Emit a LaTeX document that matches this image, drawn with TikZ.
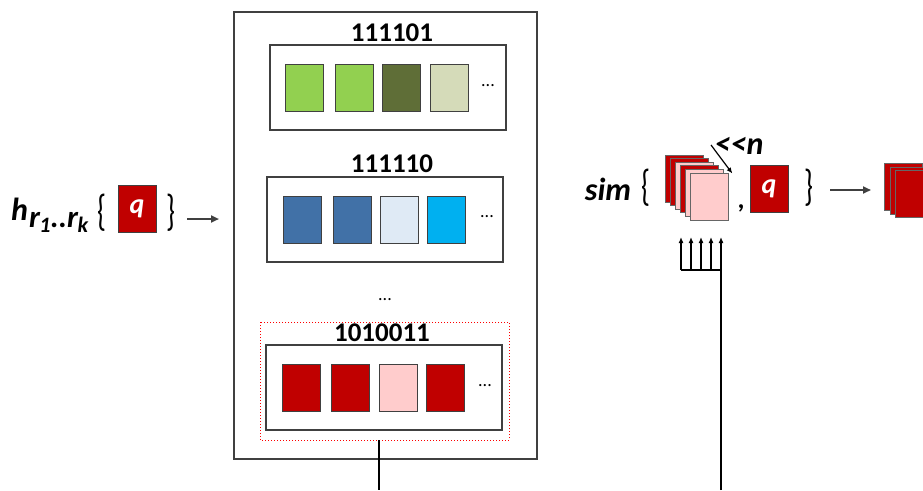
\documentclass[tikz,border=0pt]{standalone}
\usepackage{fontspec}
\setmainfont{Carlito}
\usetikzlibrary{arrows.meta}
\definecolor{dred}{HTML}{C00000}
\definecolor{pinkc}{HTML}{FFCCCC}
\definecolor{lgreen}{HTML}{92D050}
\definecolor{olive}{HTML}{5F6E37}
\definecolor{sage}{HTML}{D5DBB9}
\definecolor{steel}{HTML}{4171A7}
\definecolor{pale}{HTML}{DFEAF5}
\definecolor{cyanc}{HTML}{00B0F0}
\definecolor{edge}{HTML}{404040}
\tikzset{
  cell/.style={draw=edge, line width=0.8pt, minimum width=38pt, minimum height=47pt, inner sep=0pt},
  card/.style={draw=edge!80, line width=0.8pt, minimum width=38pt, minimum height=47pt, inner sep=0pt},
  frame/.style={draw=edge, line width=1.4pt},
  binlabel/.style={font=\fontsize{27}{30}\selectfont\bfseries, inner sep=0pt},
  dots/.style={font=\fontsize{18}{20}\selectfont, inner sep=0pt},
  brace/.style={font=\fontsize{30}{32}\selectfont, inner sep=0pt},
  qbox/.style={cell, fill=dred, font=\fontsize{28}{30}\selectfont\bfseries\itshape, text=white},
  grayarrow/.style={draw=edge, line width=2.2pt, -{Triangle[length=8pt,width=7pt]}},
  feed/.style={line width=1.8pt, -{Latex[length=6pt,width=5pt]}},
  wire/.style={line width=2pt}
}
\newcommand{\subbig}{\fontsize{31}{33}\selectfont\bfseries\itshape}
\newcommand{\subsmall}{\fontsize{22}{24}\selectfont\bfseries\itshape}
\newcommand{\tallbrace}[1]{\scalebox{0.95}[1.45]{#1}}
\begin{document}
\begin{tikzpicture}[x=1pt, y=-1pt]
\useasboundingbox (0,0) rectangle (923,490);
\clip (0,0) rectangle (923,490);

% outer container
\draw[frame, line width=2pt] (234,12) rectangle (537,459);

% bucket 111101
\node[binlabel] (l1) at (392,33) {111101};
\draw[frame] (270,45) rectangle (506,130);
\node[cell, fill=lgreen] (a1) at (304,87.5) {};
\node[cell, fill=lgreen] (a2) at (354,87.5) {};
\node[cell, fill=olive]  (a3) at (401.5,87.5) {};
\node[cell, fill=sage]   (a4) at (449,87.5) {};
\node[dots] (ad) at (488,86) {...};

% bucket 111110
\node[binlabel] (l2) at (392,164) {111110};
\draw[frame] (267,177) rectangle (503,262);
\node[cell, fill=steel] (b1) at (302.5,219.5) {};
\node[cell, fill=steel] (b2) at (352,219.5) {};
\node[cell, fill=pale]  (b3) at (399,219.5) {};
\node[cell, fill=cyanc] (b4) at (446.5,219.5) {};
\node[dots] (bd) at (487,217) {...};

\node[dots] (mid) at (385,300) {...};

% bucket 1010011 (selected)
\draw[red, dotted, line width=1pt] (260,322) rectangle (509,440);
\coordinate (selbot) at (379,440);
\node[binlabel] (l3) at (382,333) {1010011};
\draw[frame] (266,345) rectangle (502,430);
\node[cell, fill=dred]  (c1) at (301,387.5) {};
\node[cell, fill=dred]  (c2) at (350,387.5) {};
\node[cell, fill=pinkc] (c3) at (398,387.5) {};
\node[cell, fill=dred]  (c4) at (445,387.5) {};
\node[dots] (cd) at (485,386) {...};

\coordinate (bot1) at (379,490);
\draw[wire] (selbot) -- (bot1);

% hash of the query
\node[font=\fontsize{32}{34}\selectfont\bfseries\itshape, inner sep=0pt, anchor=base west] (h) at (11,220)
  {h\kern1pt\raisebox{-7pt}{\subbig r\kern-0.5pt\raisebox{-5pt}{\subsmall 1}..r\kern-0.5pt\raisebox{-5pt}{\subsmall k}}};
\node[brace] (hb1) at (102,213) {\tallbrace{\{}};
\node[qbox] (hq) at (137,209) {q};
\node[brace] (hb2) at (171,213) {\tallbrace{\}}};
\coordinate (hstart) at (187,219);
\coordinate (hend) at (219,219);
\draw[grayarrow] (hstart) -- (hend);

% similarity search
\node[font=\fontsize{32}{34}\selectfont\bfseries\itshape, inner sep=0pt] (sim) at (608,189) {sim};
\node[brace] (sb1) at (646,188) {\tallbrace{\{}};
\node[card, fill=dred]  (k1) at (684,178.5) {};
\node[card, fill=dred]  (k2) at (689,182.1) {};
\node[card, fill=pinkc] (k3) at (694,185.7) {};
\node[card, fill=dred]  (k4) at (699,189.3) {};
\node[card, fill=pinkc] (k5) at (704,192.9) {};
\node[card, fill=pinkc] (k6) at (709,196.5) {};
\node[font=\fontsize{32}{34}\selectfont\bfseries\itshape, inner sep=0pt] (shift) at (739,146) {{<}{<}n};
\coordinate (sa) at (711,145);
\draw[line width=1.2pt, -{Latex[length=6pt,width=5pt]}] (sa) -- ([xshift=4pt,yshift=-1pt]k6.north east);
\node[font=\fontsize{27}{30}\selectfont\bfseries, inner sep=0pt] (comma) at (741,208) {,};
\node[qbox] (sq) at (769,188.5) {q};
\node[brace] (sb2) at (809,188) {\tallbrace{\}}};
\coordinate (sastart) at (830,190);
\coordinate (saend) at (871,190);
\draw[grayarrow] (sastart) -- (saend);

% result set
\node[card, fill=dred] (r1) at (903,187) {};
\node[card, fill=dred] (r2) at (909,190.5) {};
\node[card, fill=dred] (r3) at (914,194) {};

% candidates fed upward
\coordinate (f1) at (681,270);
\coordinate (f2) at (691,270);
\coordinate (f3) at (701,270);
\coordinate (f4) at (711,270);
\coordinate (f5) at (721,270);
\coordinate (t1) at (681,237);
\coordinate (t2) at (691,237);
\coordinate (t3) at (701,237);
\coordinate (t4) at (711,237);
\coordinate (t5) at (721,237);
\coordinate (bot2) at (721,490);
\draw[wire] (f1) -- (f5);
\draw[wire] (bot2) -- (f5);
\foreach \i in {1,...,5} \draw[feed] (f\i) -- (t\i);
\end{tikzpicture}
\end{document}
